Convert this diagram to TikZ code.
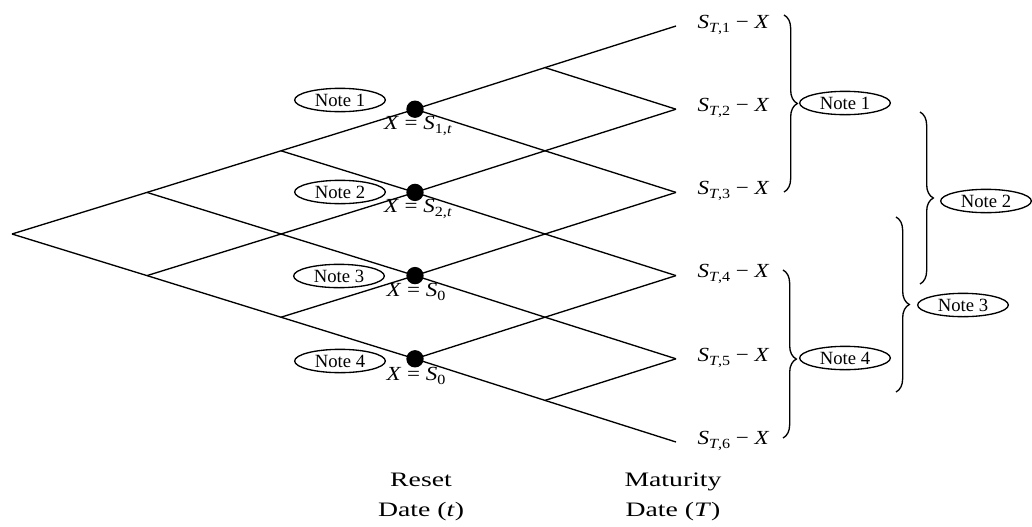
\documentclass[tikz,border=0pt]{standalone}
\usepackage{fontspec}
\setmainfont{Liberation Serif}[FakeStretch=1.15]
\newfontfamily\widefont{Liberation Serif}[FakeStretch=1.35]
\newfontfamily\notefont{Liberation Serif}
\usetikzlibrary{shapes.geometric,decorations.pathreplacing}
\newcommand\Sb[1]{\raisebox{-0.5ex}{\fontsize{10.5}{10.5}\selectfont #1}}
\begin{document}
\begin{tikzpicture}[x=0.75pt,y=-0.75pt,
  font=\fontsize{15}{22.5}\selectfont,
  edge/.style={line width=1pt},
  note/.style={draw,ellipse,line width=1pt,minimum width=68pt,minimum height=17.5pt,inner sep=0pt,font=\notefont\fontsize{14}{16}\selectfont},
  dot/.style={circle,fill=black,minimum size=13pt,inner sep=0pt},
  brc/.style={decorate,decoration={brace,amplitude=10pt},line width=1pt},
  axis/.style={align=center,font=\widefont\fontsize{15.4}{22.5}\selectfont}]
\useasboundingbox (0,0) rectangle (1032,526);
% tree grid
\foreach \i/\x in {0/12,1/147,2/281,3/415,4/545,5/676}{
  \foreach \j in {0,...,\i}{
    \coordinate (n\i\j) at (\x, {234+(2*\j-\i)*41.6});
  }
}
\foreach \i in {0,...,4}{
  \pgfmathtruncatemacro\k{\i+1}
  \foreach \j in {0,...,\i}{
    \pgfmathtruncatemacro\m{\j+1}
    \draw[edge] (n\i\j) -- (n\k\j);
    \draw[edge] (n\i\j) -- (n\k\m);
  }
}
% reset-date dots
\foreach \j in {0,...,3}{ \node[dot] (d\j) at (n3\j) {}; }
\node (x0) at (418,126) {\textit{X} = \textit{S}\Sb{1,\textit{t}}};
\node (x1) at (418,209) {\textit{X} = \textit{S}\Sb{2,\textit{t}}};
\node (x2) at (416,292) {\textit{X} = \textit{S}\Sb{0}};
\node (x3) at (416,376) {\textit{X} = \textit{S}\Sb{0}};
% left notes
\node[note] (l1) at (340,100) {Note 1};
\node[note] (l2) at (340,192) {Note 2};
\node[note] (l3) at (339,276) {Note 3};
\node[note] (l4) at (340,361) {Note 4};
% terminal payoffs
\node[anchor=base west] (t1) at (693,28) {\textit{S}\Sb{\textit{T},1} − \textit{X}};
\node[anchor=base west] (t2) at (693,111) {\textit{S}\Sb{\textit{T},2} − \textit{X}};
\node[anchor=base west] (t3) at (693,194) {\textit{S}\Sb{\textit{T},3} − \textit{X}};
\node[anchor=base west] (t4) at (693,277) {\textit{S}\Sb{\textit{T},4} − \textit{X}};
\node[anchor=base west] (t5) at (693,361) {\textit{S}\Sb{\textit{T},5} − \textit{X}};
\node[anchor=base west] (t6) at (693,444) {\textit{S}\Sb{\textit{T},6} − \textit{X}};
% right notes
\node[note] (r1) at (845,103) {Note 1};
\node[note] (r2) at (986,201) {Note 2};
\node[note] (r3) at (963,305) {Note 3};
\node[note] (r4) at (845,358) {Note 4};
% braces
\coordinate (b1a) at (784,15);  \coordinate (b1b) at (784,192);
\coordinate (b2a) at (920,112); \coordinate (b2b) at (920,284);
\coordinate (b3a) at (896,217); \coordinate (b3b) at (896,392);
\coordinate (b4a) at (783,270); \coordinate (b4b) at (783,438);
\draw[brc] (b1a) -- (b1b);
\draw[brc] (b2a) -- (b2b);
\draw[brc] (b3a) -- (b3b);
\draw[brc,decoration={aspect=0.53}] (b4a) -- (b4b);
% axis labels
\node[axis] (reset) at (421,497) {Reset\\Date (\textit{t})};
\node[axis] (mat) at (673,497) {Maturity\\Date (\textit{T})};
\end{tikzpicture}
\end{document}
